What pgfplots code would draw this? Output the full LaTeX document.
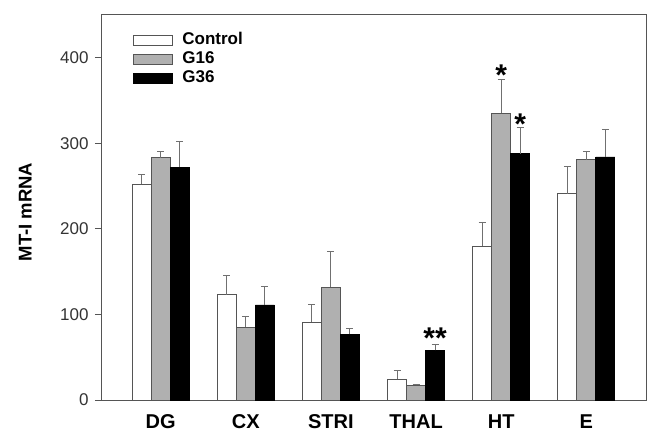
\documentclass[border=0pt]{standalone}
\usepackage{pgfplots}
\pgfplotsset{compat=1.18}
\usepackage{fontspec}
\setmainfont{Liberation Sans}
\definecolor{axgray}{HTML}{555555}
\definecolor{barg}{HTML}{B0B0B0}
\definecolor{errg}{HTML}{707070}
\begin{document}
\begin{tikzpicture}
\useasboundingbox (-101pt,-34pt) rectangle (552pt,400pt);
\begin{axis}[
  at={(0pt,0pt)}, anchor=south west,
  scale only axis, width=545pt, height=386pt,
  xmin=-0.7, xmax=5.7, ymin=0, ymax=451,
  ybar=0pt, bar width=19pt,
  axis line style={axgray, line width=0.9pt},
  xtick={0,1,2,3,4,5},
  xticklabels={DG,CX,STRI,THAL,HT,E},
  major x tick style={draw=none},
  ytick={0,100,200,300,400},
  ytick pos=left, tick align=outside, major tick length=6pt,
  major y tick style={axgray, line width=0.9pt},
  /pgf/number format/assume math mode=true,
  yticklabel style={font=\fontsize{17}{20}\selectfont, text=black!80, xshift=-3pt},
  xticklabel style={font=\bfseries\fontsize{20}{24}\selectfont, yshift=-5pt},
  ylabel={MT-I mRNA},
  every axis y label/.style={at={(axis description cs:-0.139,0.487)}, rotate=90, anchor=center,
    font=\bfseries\fontsize{18.5}{22}\selectfont},
  legend style={at={(axis description cs:0.052,0.962)}, anchor=north west,
    draw=none, fill=none, font=\bfseries\fontsize{17}{18}\selectfont,
    nodes={text height=13pt, text depth=4pt, inner sep=1pt},
    row sep=0pt, column sep=9pt},
  legend cell align=left,
  legend image code/.code={\draw[#1] (0pt,-5pt) rectangle (39pt,5pt);},
  error bars/y dir=plus, error bars/y explicit,
  error bars/error bar style={errg, line width=0.9pt},
  error bars/error mark options={rotate=90, errg, mark size=3.5pt, line width=0.9pt},
]
\addplot[draw=axgray, fill=white, line width=0.8pt] coordinates {
  (0,252) +- (0,11)
  (1,123) +- (0,23)
  (2,91) +- (0,21)
  (3,24) +- (0,10)
  (4,180) +- (0,28)
  (5,241) +- (0,32)
};
\addplot[draw=axgray, fill=barg, line width=0.8pt] coordinates {
  (0,283) +- (0,7)
  (1,85) +- (0,13)
  (2,132) +- (0,41)
  (3,17) +- (0,1.5)
  (4,335) +- (0,39)
  (5,281) +- (0,9)
};
\addplot[draw=black, fill=black, line width=0.8pt] coordinates {
  (0,272) +- (0,30)
  (1,111) +- (0,22)
  (2,77) +- (0,7)
  (3,58) +- (0,7)
  (4,288) +- (0,30)
  (5,284) +- (0,32)
};
\legend{Control,G16,G36}
\node[font=\bfseries\fontsize{30}{30}\selectfont, inner sep=0pt] at (axis cs:4,380) {*};
\node[font=\bfseries\fontsize{30}{30}\selectfont, inner sep=0pt] at (axis cs:4.223,322) {*};
\node[font=\bfseries\fontsize{30}{30}\selectfont, inner sep=0pt] at (axis cs:3.223,72) {**};
\end{axis}
\end{tikzpicture}
\end{document}
